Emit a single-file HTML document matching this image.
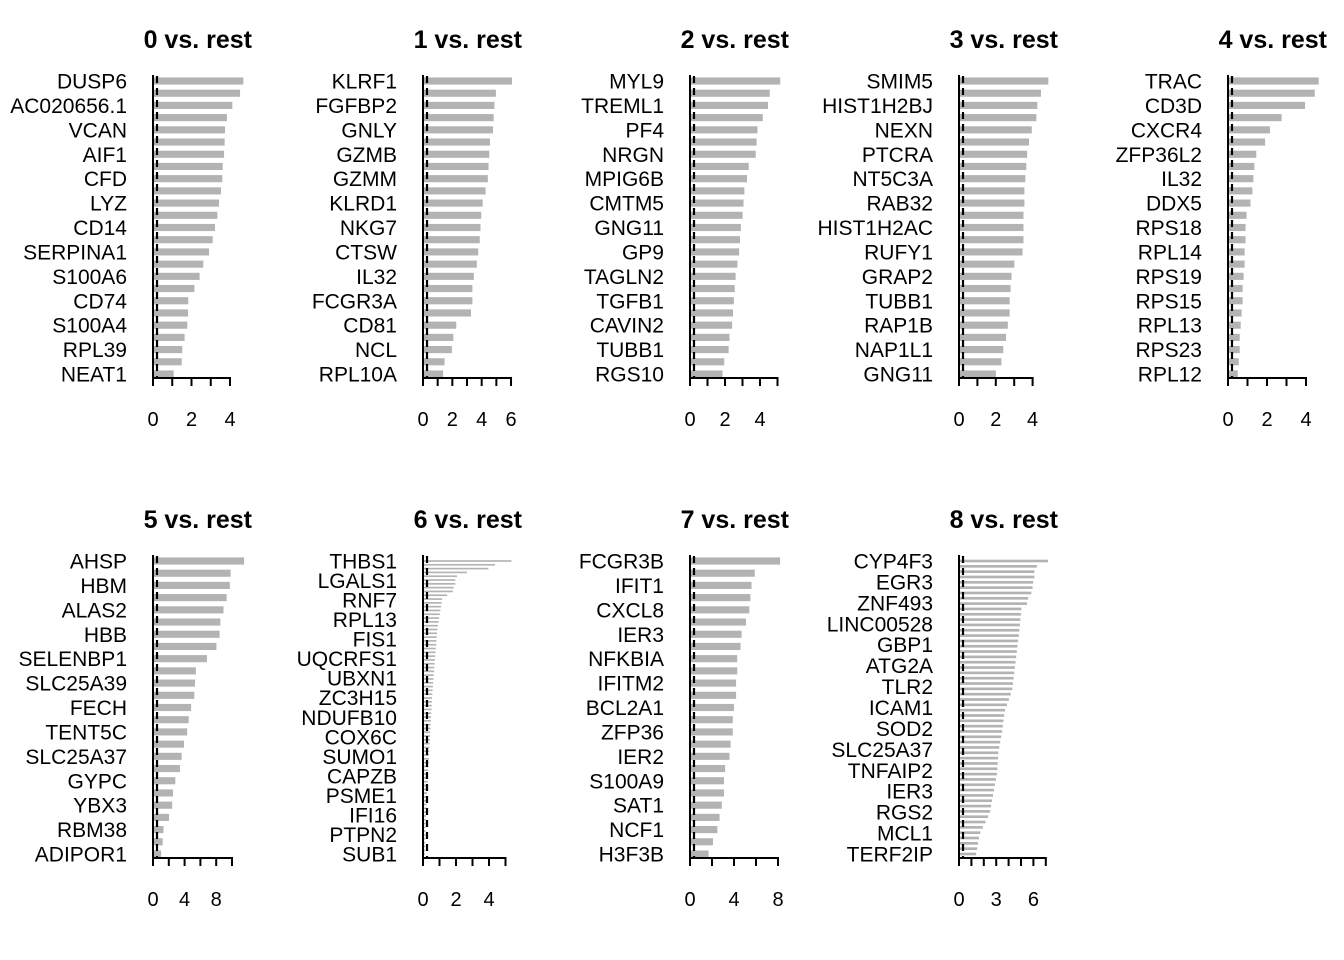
<!DOCTYPE html>
<html><head><style>body{margin:0;background:#fff}svg{display:block}text{font-family:"Liberation Sans",Arial,sans-serif}</style></head>
<body>
<svg id="s" width="1344" height="960" xmlns="http://www.w3.org/2000/svg"></svg>
<script>
function decay(n,pts){var a=[];for(var i=0;i<n;i++){var t=i/(n-1)*(pts.length-1);var k=Math.floor(t);if(k>=pts.length-1){a.push(pts[pts.length-1]);continue;}var f=t-k;a.push(pts[k]*(1-f)+pts[k+1]*f);}return a;}
var P=[
{t:"0 vs. rest",x0:153,u:19.25,ticks:[0,1,2,3,4],lab:[0,2,4],row:0,
 v:[4.64,4.47,4.07,3.79,3.69,3.67,3.64,3.57,3.55,3.48,3.38,3.29,3.17,3.05,2.86,2.56,2.37,2.1,1.78,1.77,1.73,1.59,1.47,1.44,1.02],
 g:["DUSP6","AC020656.1","VCAN","AIF1","CFD","LYZ","CD14","SERPINA1","S100A6","CD74","S100A4","RPL39","NEAT1"]},
{t:"1 vs. rest",x0:423,u:14.67,ticks:[0,1,2,3,4,5,6],lab:[0,2,4,6],row:0,
 v:[6.0,4.9,4.8,4.75,4.7,4.5,4.45,4.4,4.35,4.2,4.0,3.9,3.85,3.8,3.7,3.6,3.4,3.3,3.3,3.2,2.2,2.0,1.9,1.4,1.3],
 g:["KLRF1","FGFBP2","GNLY","GZMB","GZMM","KLRD1","NKG7","CTSW","IL32","FCGR3A","CD81","NCL","RPL10A"]},
{t:"2 vs. rest",x0:690,u:17.5,ticks:[0,1,2,3,4,5],lab:[0,2,4],row:0,
 v:[5.1,4.5,4.4,4.1,3.8,3.75,3.7,3.3,3.2,3.05,3.0,2.95,2.85,2.8,2.75,2.65,2.55,2.5,2.45,2.4,2.35,2.2,2.15,1.9,1.8],
 g:["MYL9","TREML1","PF4","NRGN","MPIG6B","CMTM5","GNG11","GP9","TAGLN2","TGFB1","CAVIN2","TUBB1","RGS10"]},
{t:"3 vs. rest",x0:959,u:18.4,ticks:[0,1,2,3,4],lab:[0,2,4],row:0,
 v:[4.8,4.4,4.2,4.15,3.9,3.75,3.65,3.6,3.55,3.5,3.5,3.45,3.45,3.45,3.4,2.95,2.8,2.75,2.7,2.7,2.6,2.5,2.35,2.25,1.95],
 g:["SMIM5","HIST1H2BJ","NEXN","PTCRA","NT5C3A","RAB32","HIST1H2AC","RUFY1","GRAP2","TUBB1","RAP1B","NAP1L1","GNG11"]},
{t:"4 vs. rest",x0:1228,u:19.5,ticks:[0,1,2,3,4],lab:[0,2,4],row:0,
 v:[4.6,4.4,3.9,2.7,2.1,1.85,1.4,1.3,1.25,1.2,1.1,0.9,0.85,0.85,0.8,0.8,0.75,0.7,0.7,0.65,0.6,0.55,0.55,0.5,0.45],
 g:["TRAC","CD3D","CXCR4","ZFP36L2","IL32","DDX5","RPS18","RPL14","RPS19","RPS15","RPL13","RPS23","RPL12"]},
{t:"5 vs. rest",x0:153,u:7.9,ticks:[0,2,4,6,8,10],lab:[0,4,8],row:1,
 v:[11.4,9.7,9.6,9.2,8.8,8.4,8.3,7.9,6.7,5.3,5.2,5.1,4.7,4.4,4.2,3.8,3.5,3.3,2.7,2.4,2.3,1.9,1.2,1.1,0.9],
 g:["AHSP","HBM","ALAS2","HBB","SELENBP1","SLC25A39","FECH","TENT5C","SLC25A37","GYPC","YBX3","RBM38","ADIPOR1"]},
{t:"6 vs. rest",x0:423,u:16.5,ticks:[0,1,2,3,4,5],lab:[0,2,4],row:1,
 v:[5.3,4.3,3.9,2.6,2.0,1.9,1.9,1.8,1.75,1.4].concat(decay(68,[1.1,0.8,0.65,0.5,0.4,0.3,0.2,0.1,0.05])),
 g:["THBS1","LGALS1","RNF7","RPL13","FIS1","UQCRFS1","UBXN1","ZC3H15","NDUFB10","COX6C","SUMO1","CAPZB","PSME1","IFI16","PTPN2","SUB1"]},
{t:"7 vs. rest",x0:690,u:11,ticks:[0,2,4,6,8],lab:[0,4,8],row:1,
 v:[8.1,5.8,5.5,5.4,5.3,5.0,4.6,4.5,4.2,4.2,4.1,4.1,3.9,3.8,3.8,3.6,3.5,3.1,3.0,3.0,2.8,2.6,2.4,2.0,1.6],
 g:["FCGR3B","IFIT1","CXCL8","IER3","NFKBIA","IFITM2","BCL2A1","ZFP36","IER2","S100A9","SAT1","NCF1","H3F3B"]},
{t:"8 vs. rest",x0:959,u:12.4,ticks:[0,1,2,3,4,5,6,7],lab:[0,3,6],row:1,
 v:[7.1,6.2,6.0,6.0,5.9,5.85,5.75,5.5,5.4].concat(decay(47,[4.95,4.8,4.6,4.4,4.2,3.6,3.4,3.1,3.0,2.7,2.4,1.6,1.3])),
 g:["CYP4F3","EGR3","ZNF493","LINC00528","GBP1","ATG2A","TLR2","ICAM1","SOD2","SLC25A37","TNFAIP2","IER3","RGS2","MCL1","TERF2IP"]}
];
var s="";
P.forEach(function(p){
 var dy=p.row*480, top=81+dy, bot=374+dy, ax=378+dy, n=p.v.length, sp=(bot-top)/(n-1);
 var h=Math.max(1,sp*0.65-0.8);
 p.v.forEach(function(v,i){var y=top+i*sp;s+='<rect x="'+(p.x0+1)+'" y="'+(y-h/2).toFixed(2)+'" width="'+(v*p.u).toFixed(2)+'" height="'+h.toFixed(2)+'" fill="#b3b3b3"/>';});
 var ng=p.g.length, ls=(bot-top)/(ng-1);
 p.g.forEach(function(g,i){s+='<text x="'+(p.x0-26)+'" y="'+(top+i*ls+7.5).toFixed(1)+'" font-size="21" text-anchor="end">'+g+'</text>';});
 s+='<line x1="'+p.x0+'" y1="'+(75+dy)+'" x2="'+p.x0+'" y2="'+ax+'" stroke="#000" stroke-width="2"/>';
 s+='<line x1="'+(p.x0+4)+'" y1="'+(76+dy)+'" x2="'+(p.x0+4)+'" y2="'+ax+'" stroke="#000" stroke-width="2.2" stroke-dasharray="7,5"/>';
 var last=p.ticks[p.ticks.length-1];
 s+='<line x1="'+(p.x0-1)+'" y1="'+ax+'" x2="'+(p.x0+last*p.u+1)+'" y2="'+ax+'" stroke="#000" stroke-width="2"/>';
 p.ticks.forEach(function(t){var x=p.x0+t*p.u;s+='<line x1="'+x+'" y1="'+ax+'" x2="'+x+'" y2="'+(ax+8)+'" stroke="#000" stroke-width="2"/>';});
 p.lab.forEach(function(t){s+='<text x="'+(p.x0+t*p.u)+'" y="'+(426+dy)+'" font-size="20" text-anchor="middle">'+t+'</text>';});
 s+='<text x="'+(p.x0+99)+'" y="'+(48+dy)+'" font-size="25" font-weight="bold" text-anchor="end">'+p.t+'</text>';
});
document.getElementById("s").innerHTML=s;
</script>
</body></html>
